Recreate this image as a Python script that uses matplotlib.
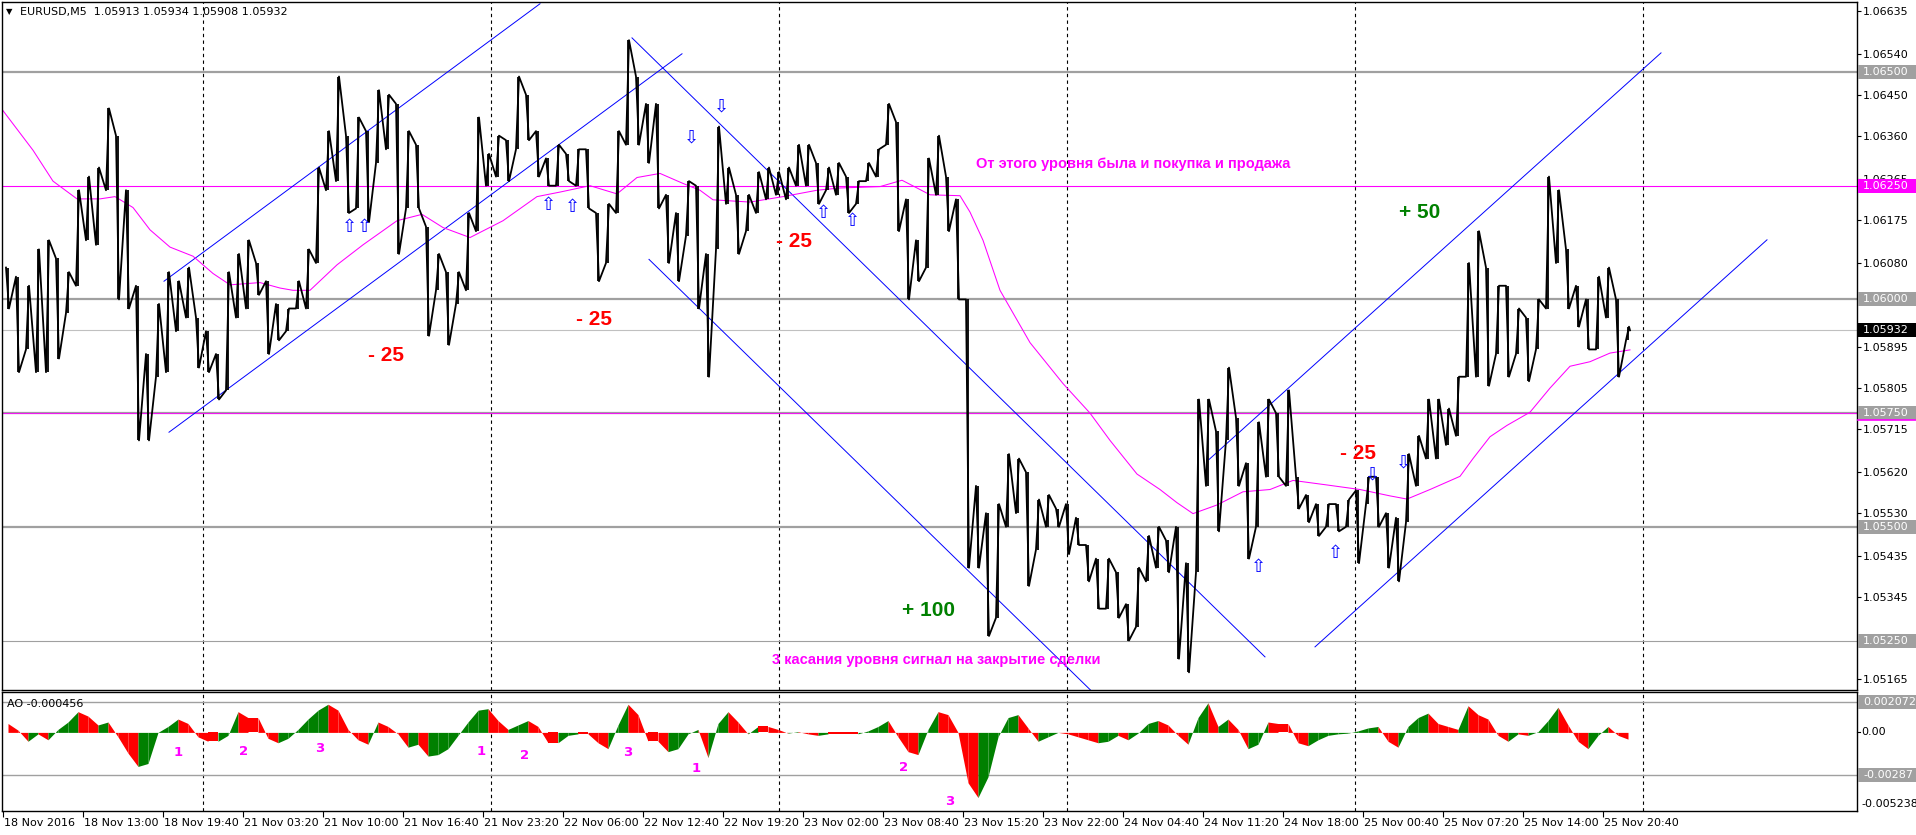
import matplotlib
matplotlib.use('Agg')
import matplotlib.pyplot as plt
from matplotlib.patches import Rectangle
from matplotlib.lines import Line2D
import matplotlib.transforms as mtransforms

W, H = 1916, 835
BLOCK = 10  # bars per high/low block

# EURUSD M5, high / low of every 10-bar block
block_high = [
    1.0607, 1.0605, 1.0603, 1.0611, 1.0613, 1.0609, 1.0606, 1.0624, 1.0627, 1.0629,
    1.0642, 1.0636, 1.0624, 1.0603, 1.0588, 1.0599, 1.0606, 1.0604, 1.0607, 1.0596,
    1.0593, 1.0588, 1.0606, 1.0610, 1.0613, 1.0608, 1.0604, 1.0599, 1.0598, 1.0604,
    1.0611, 1.0629, 1.0637, 1.0649, 1.0636, 1.0640, 1.0637, 1.0646, 1.0645, 1.0643,
    1.0637, 1.0634, 1.0616, 1.0610, 1.0606, 1.0606, 1.0619, 1.0640, 1.0632, 1.0636,
    1.0635, 1.0649, 1.0645, 1.0637, 1.0631, 1.0634, 1.0632, 1.0633, 1.0633, 1.0619,
    1.0621, 1.0637, 1.0657, 1.0649, 1.0643, 1.0643, 1.0623, 1.0619, 1.0626, 1.0625,
    1.0610, 1.0638, 1.0629, 1.0623, 1.0623, 1.0628, 1.0629, 1.0628, 1.0629, 1.0634,
    1.0634, 1.0630, 1.0629, 1.0630, 1.0627, 1.0626, 1.0630, 1.0633, 1.0643, 1.0639,
    1.0622, 1.0613, 1.0631, 1.0636, 1.0627, 1.0622, 1.0600, 1.0559, 1.0553, 1.0555,
    1.0566, 1.0565, 1.0562, 1.0556, 1.0557, 1.0554, 1.0555, 1.0552, 1.0546, 1.0543,
    1.0543, 1.0540, 1.0533, 1.0541, 1.0548, 1.0550, 1.0547, 1.0550, 1.0542, 1.0578,
    1.0578, 1.0571, 1.0585, 1.0574, 1.0564, 1.0573, 1.0578, 1.0575, 1.0580, 1.0561,
    1.0557, 1.0555, 1.0555, 1.0555, 1.0556, 1.0558, 1.0561, 1.0561, 1.0553, 1.0552,
    1.0566, 1.0570, 1.0578, 1.0578, 1.0576, 1.0583, 1.0608, 1.0615, 1.0607, 1.0603,
    1.0603, 1.0598, 1.0596, 1.0600, 1.0627, 1.0624, 1.0611, 1.0603, 1.0600, 1.0605,
    1.0607, 1.0600, 1.0594,
]
block_low = [
    1.0598, 1.0584, 1.0589, 1.0584, 1.0584, 1.0587, 1.0597, 1.0603, 1.0613, 1.0612,
    1.0624, 1.0600, 1.0598, 1.0569, 1.0569, 1.0583, 1.0584, 1.0593, 1.0596, 1.0585,
    1.0584, 1.0578, 1.0580, 1.0596, 1.0598, 1.0601, 1.0588, 1.0591, 1.0593, 1.0598,
    1.0598, 1.0608, 1.0624, 1.0626, 1.0619, 1.0620, 1.0617, 1.0630, 1.0633, 1.0610,
    1.0620, 1.0620, 1.0592, 1.0602, 1.0590, 1.0599, 1.0602, 1.0615, 1.0625, 1.0627,
    1.0626, 1.0633, 1.0635, 1.0627, 1.0625, 1.0625, 1.0626, 1.0625, 1.0620, 1.0604,
    1.0608, 1.0619, 1.0634, 1.0634, 1.0630, 1.0620, 1.0608, 1.0604, 1.0614, 1.0598,
    1.0583, 1.0611, 1.0621, 1.0610, 1.0615, 1.0619, 1.0622, 1.0623, 1.0622, 1.0625,
    1.0625, 1.0621, 1.0624, 1.0623, 1.0619, 1.0621, 1.0626, 1.0627, 1.0634, 1.0615,
    1.0600, 1.0604, 1.0607, 1.0623, 1.0615, 1.0600, 1.0541, 1.0541, 1.0526, 1.0530,
    1.0550, 1.0553, 1.0537, 1.0545, 1.0550, 1.0550, 1.0544, 1.0546, 1.0538, 1.0532,
    1.0532, 1.0530, 1.0525, 1.0528, 1.0538, 1.0541, 1.0540, 1.0521, 1.0518, 1.0540,
    1.0559, 1.0549, 1.0569, 1.0559, 1.0543, 1.0550, 1.0561, 1.0561, 1.0559, 1.0554,
    1.0551, 1.0548, 1.0550, 1.0549, 1.0550, 1.0542, 1.0555, 1.0550, 1.0541, 1.0538,
    1.0551, 1.0559, 1.0565, 1.0565, 1.0568, 1.0570, 1.0583, 1.0583, 1.0581, 1.0588,
    1.0583, 1.0588, 1.0582, 1.0589, 1.0598, 1.0608, 1.0598, 1.0594, 1.0589, 1.0589,
    1.0596, 1.0583, 1.0591,
]
last_bar = 1627
last_close = 1.05932

# magenta moving average, sampled points (bar index, price)
ma_bar = [0, 30, 50, 74, 97, 112, 130, 147, 167, 190, 210, 227, 257, 277, 290, 307,
          334, 360, 394, 419, 440, 467, 500, 534, 557, 587, 614, 634, 657, 680, 697,
          710, 747, 780, 814, 837, 877, 899, 914, 927, 957, 967, 980, 997, 1027, 1060,
          1087, 1107, 1134, 1157, 1174, 1190, 1214, 1240, 1267, 1290, 1324, 1357, 1387,
          1404, 1427, 1457, 1470, 1487, 1504, 1527, 1547, 1567, 1587, 1607, 1627]
ma_val = [1.06415, 1.06328, 1.06260, 1.06221, 1.06221, 1.06226, 1.06202, 1.06153,
          1.06115, 1.06095, 1.06057, 1.06032, 1.06037, 1.06025, 1.06020, 1.06020,
          1.06076, 1.06120, 1.06173, 1.06187, 1.06158, 1.06136, 1.06173, 1.06226,
          1.06236, 1.06250, 1.06232, 1.06268, 1.06277, 1.06255, 1.06240, 1.06219,
          1.06214, 1.06226, 1.06240, 1.06245, 1.06248, 1.06262, 1.06245, 1.06230,
          1.06228, 1.06192, 1.06130, 1.06020, 1.05905, 1.05815, 1.05750, 1.05690,
          1.05616, 1.05582, 1.05553, 1.05529, 1.05548, 1.05577, 1.05582, 1.05602,
          1.05592, 1.05582, 1.05568, 1.05561, 1.05582, 1.05611, 1.05650, 1.05698,
          1.05723, 1.05752, 1.05805, 1.05853, 1.05863, 1.05882, 1.05889]

# Awesome Oscillator, one value per 10-bar block
ao_val = [
    0.0006, 0.00015, -0.0006, -0.0001, -0.0005, 0.0002, 0.0007, 0.0014, 0.0011, 0.0005,
    0.0007, -0.0003, -0.0014, -0.0023, -0.0021, 0.0, 0.0004, 0.0009, 0.0006, -0.0003,
    -0.0006, -0.0006, -0.0002, 0.0014, 0.0010, 0.0010, -0.0004, -0.0007, -0.0004, 0.0002,
    0.0009, 0.0015, 0.0019, 0.0015, 0.0002, -0.0005, -0.0008, 0.0007, 0.0004, -0.0001,
    -0.0010, -0.0008, -0.0016, -0.0015, -0.0011, -0.0002, 0.0007, 0.0015, 0.0016, 0.0008,
    0.0002, 0.0005, 0.0008, 0.0004, -0.0007, -0.0007, -0.0002, -0.0001, -0.0001, -0.0007,
    -0.0011, 0.0005, 0.0019, 0.0012, -0.0006, -0.0006, -0.0013, -0.0011, -0.0001, 0.0002,
    -0.0017, 0.0006, 0.0014, 0.0007, -0.0001, 0.0004, 0.0004, 0.0002, -0.00005, 0.00005,
    -0.0001, -0.0002, -0.0001, -0.0001, -0.0001, -0.0001, 0.0001, 0.0004, 0.0008, -0.0003,
    -0.0013, -0.0015, 0.0002, 0.0014, 0.0012, 0.0, -0.0034, -0.0044, -0.0030, -0.0003,
    0.0010, 0.0012, 0.0003, -0.0006, -0.0003, 0.0, -0.0001, -0.0003, -0.0005, -0.0007,
    -0.0006, -0.0002, -0.0005, -0.00005, 0.0006, 0.0008, 0.0005, -0.0002, -0.0008, 0.0010,
    0.0020, 0.0004, 0.0009, 0.0002, -0.0011, -0.0008, 0.0007, 0.0006, 0.0006, -0.0007,
    -0.0009, -0.0005, -0.0002, -0.0001, -0.00005, 0.0001, 0.0003, 0.0004, -0.0006, -0.0010,
    0.0004, 0.0010, 0.0013, 0.0006, 0.0004, 0.0002, 0.0018, 0.0012, 0.0009, -0.0002,
    -0.0006, -0.0001, -0.0002, 0.00005, 0.0008, 0.0017, 0.0005, -0.0006, -0.0011, -0.0002,
    0.0004, -0.0002, -0.000456,
]

# channel lines: (bar0, price0, bar1, price1)
trend_lines = [
    (161, 1.06040, 537, 1.06650),
    (166, 1.05708, 679, 1.06540),
    (629, 1.06575, 1262, 1.05214),
    (646, 1.06088, 1088, 1.05140),
    (1206, 1.05648, 1658, 1.06542),
    (1312, 1.05236, 1764, 1.06131),
]

gray_levels = [1.0650, 1.0600, 1.0575, 1.0550]
magenta_levels = [1.0625, 1.0575]
thin_level = 1.0525

price_ticks = [1.06635, 1.06540, 1.06450, 1.06360, 1.06265, 1.06175, 1.06080,
               1.05895, 1.05805, 1.05715, 1.05620, 1.05530, 1.05435, 1.05345,
               1.05165]

day_separators = [200, 488, 776, 1064, 1352, 1640]

time_labels = ['18 Nov 2016', '18 Nov 13:00', '18 Nov 19:40', '21 Nov 03:20', '21 Nov 10:00',
               '21 Nov 16:40', '21 Nov 23:20', '22 Nov 06:00', '22 Nov 12:40', '22 Nov 19:20',
               '23 Nov 02:00', '23 Nov 08:40', '23 Nov 15:20', '23 Nov 22:00', '24 Nov 04:40',
               '24 Nov 11:20', '24 Nov 18:00', '25 Nov 00:40', '25 Nov 07:20', '25 Nov 14:00',
               '25 Nov 20:40']
label_step = 80

up_arrows = [(346, 1.06159), (361, 1.06159), (545, 1.06208), (569, 1.06203),
             (820, 1.06190), (849, 1.06172), (1255, 1.05412), (1332, 1.05442)]
down_arrows = [(688, 1.06355), (718, 1.06425), (1369, 1.05616), (1400, 1.05642)]

results = [('- 25', 383, 1.05876, 'red'), ('- 25', 591, 1.05955, 'red'),
           ('- 25', 791, 1.06128, 'red'), ('- 25', 1355, 1.05662, 'red'),
           ('+ 100', 926, 1.05315, 'green'), ('+ 50', 1417, 1.06190, 'green')]
notes = [('От этого уровня была и покупка и продажа', 1130, 1.06298),
         ('3 касания уровня сигнал на закрытие сделки', 933, 1.05207)]

ao_note_bar = [175, 241, 317, 478, 522, 625, 693, 901, 947]
ao_note_val = [-0.00139, -0.00126, -0.00112, -0.00132, -0.00153, -0.00139, -0.00247,
               -0.00240, -0.00469]
ao_note_txt = ['1', '2', '3', '1', '2', '3', '1', '2', '3']
ao_levels = [0.002072, -0.002878]

GRAY = '#a0a0a0'
MAG = '#ff00ff'
GREEN = '#008000'

fig = plt.figure(figsize=(W / 100, H / 100), dpi=100)
ax = fig.add_axes([2 / W, 1 - 690 / H, 1855 / W, 688 / H])
ao = fig.add_axes([2 / W, 1 - 811 / H, 1855 / W, 119 / H])

for a in (ax, ao):
    a.set_xlim(-1, 1854)
    for s in a.spines.values():
        s.set_linewidth(1.0)
    for x in day_separators:
        a.axvline(x, color='black', lw=0.8, linestyle=(0, (3, 3)), zorder=1)

ax.set_ylim(1.051412, 1.066539)
ao.set_ylim(-0.005308, 0.002727)

# horizontal levels
for lv in gray_levels:
    ax.axhline(lv, color=GRAY, lw=1.6, zorder=1)
for lv in magenta_levels:
    ax.axhline(lv, color=MAG, lw=0.8, zorder=1.1, alpha=0.85 if lv == 1.0575 else 1)
ax.axhline(thin_level, color=GRAY, lw=0.8, zorder=1)
ax.axhline(last_close, color='#c0c0c0', lw=0.8, zorder=1)

# trend channels
for b0, p0, b1, p1 in trend_lines:
    ax.plot([b0, b1], [p0, p1], color='#0000ff', lw=0.7, zorder=2)

# moving average
ax.plot(ma_bar, ma_val, color=MAG, lw=0.75, zorder=2.5)

# price path: each block drawn as a near-vertical stroke between its high and low
xs, ys = [], []
prev_mid = None
for i, (hi, lo) in enumerate(zip(block_high, block_low)):
    x0 = i * BLOCK
    mid = (hi + lo) / 2
    if prev_mid is not None and mid >= prev_mid:
        xs += [x0 + 3, x0 + 6]
        ys += [lo, hi]
    else:
        xs += [x0 + 3, x0 + 6]
        ys += [hi, lo]
    prev_mid = mid
xs.append(last_bar)
ys.append(last_close)
ax.plot(xs, ys, color='black', lw=1.3, zorder=3)
ax.vlines([i * BLOCK + 4.5 for i in range(len(block_high))], block_low, block_high,
          color='black', lw=1.3, zorder=3)

# arrows
for b, p in up_arrows:
    ax.text(b, p, '\u21e7', color='#0000ff', fontsize=13, ha='center', va='center', zorder=4)
for b, p in down_arrows:
    ax.text(b, p, '\u21e9', color='#0000ff', fontsize=13, ha='center', va='center', zorder=4)

# annotations
for txt, b, p, c in results:
    ax.text(b, p, txt, color=c, fontsize=15, fontweight='bold', family='Liberation Sans',
            ha='center', va='center', zorder=5)
for txt, b, p in notes:
    ax.text(b, p, txt, color=MAG, fontsize=10.5, fontweight='bold', family='Liberation Sans',
            ha='center', va='center', zorder=5)

# price axis on the right
ax.set_xticks([])
ax.yaxis.tick_right()
ax.set_yticks(price_ticks)
ax.set_yticklabels([f'{v:.5f}' for v in price_ticks], fontsize=8)
ax.tick_params(axis='y', length=3, width=0.8, pad=1.5)


def price_box(value, text, face, axis, ylim_px):
    y_disp = axis.transData.transform((0, value))[1]
    y_fig = y_disp / fig.dpi / fig.get_figheight()
    y_fig = min(max(y_fig, ylim_px[0]), ylim_px[1])
    fig.add_artist(Rectangle((1858 / W, y_fig - 7 / H), 58 / W, 14 / H,
                             transform=fig.transFigure, fc=face, ec='none', zorder=10))
    fig.text(1863 / W, y_fig, text, color='white', fontsize=8, va='center', ha='left',
             zorder=11)


main_lim = (1 - 683 / H, 1 - 9 / H)
for lv in [1.0650, 1.0600, 1.0575, 1.0550, 1.0525]:
    price_box(lv, f'{lv:.5f}', GRAY, ax, main_lim)
price_box(1.0625, '1.06250', MAG, ax, main_lim)
price_box(last_close, f'{last_close:.5f}', 'black', ax, main_lim)
y575 = ax.transData.transform((0, 1.0575))[1] / 100 / fig.get_figheight()
fig.add_artist(Line2D([1858 / W, 1916 / W], [y575 - 7 / H, y575 - 7 / H], color=MAG, lw=1.2,
                      transform=fig.transFigure, zorder=12))

# AO histogram, green while rising, red while falling
for i in range(len(ao_val) - 1):
    x0, x1 = i * BLOCK + 5, (i + 1) * BLOCK + 5
    c = GREEN if ao_val[i + 1] > ao_val[i] else '#ff0000'
    ao.fill_between([x0, x1], [ao_val[i], ao_val[i + 1]], 0, color=c, lw=0, zorder=2)
for lv in ao_levels:
    ao.axhline(lv, color=GRAY, lw=1.0, zorder=1)
for b, v, t in zip(ao_note_bar, ao_note_val, ao_note_txt):
    ao.text(b, v, t, color=MAG, fontsize=9.5, fontweight='bold', ha='center', va='center',
            zorder=5)

ao.set_yticks([])
ao.set_xticks([i * label_step for i in range(len(time_labels))])
ao.set_xticklabels([])
ao.tick_params(axis='x', length=4, width=0.8, direction='out')
ao_lim = (1 - 806 / H, 1 - 698 / H)
price_box(ao_levels[0], '0.002072', GRAY, ao, ao_lim)
price_box(ao_levels[1], '-0.00287', GRAY, ao, ao_lim)
y0 = ao.transData.transform((0, 0))[1] / 100 / fig.get_figheight()
fig.text(1861 / W, y0, '0.00', fontsize=8, va='center', ha='left')
fig.text(1861 / W, 1 - 804 / H, '-0.005238', fontsize=8, va='center', ha='left')
fig.add_artist(Line2D([1857 / W, 1860 / W], [y0, y0], color='black', lw=0.8,
                      transform=fig.transFigure))

lab_trans = mtransforms.blended_transform_factory(ao.transData, fig.transFigure)
for i, t in enumerate(time_labels):
    ao.text(i * label_step + 1.5, 1 - 823 / H, t, fontsize=8, ha='left', va='center',
            transform=lab_trans, clip_on=False)

# chart headers
fig.text(6 / W, 1 - 12 / H, '\u25bc', fontsize=6, va='center')
fig.text(20 / W, 1 - 12 / H, 'EURUSD,M5  1.05913 1.05934 1.05908 1.05932', fontsize=8,
         va='center')
fig.text(7 / W, 1 - 704 / H, 'AO -0.000456', fontsize=8, va='center')

fig.savefig('out.png', dpi=100)
plt.close(fig)
